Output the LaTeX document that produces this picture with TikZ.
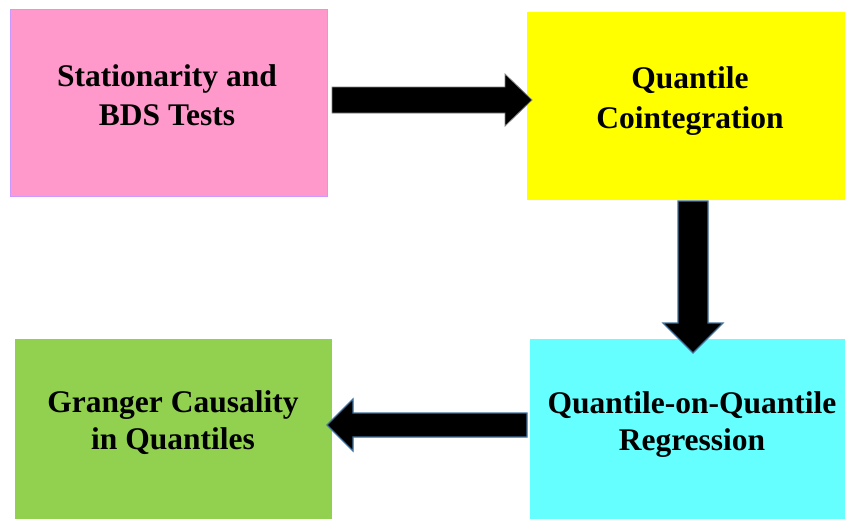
\documentclass[tikz,border=0pt]{standalone}
\usepackage{fontspec}
\setmainfont{Liberation Serif}
\usetikzlibrary{calc}
\definecolor{boxpink}{HTML}{FF99CC}
\definecolor{boxpinkline}{HTML}{CC99FF}
\definecolor{boxyellow}{HTML}{FFFF00}
\definecolor{boxcyan}{HTML}{66FFFF}
\definecolor{boxgreen}{HTML}{92D050}
\definecolor{arrline}{HTML}{41719C}
\tikzset{
  box/.style={rectangle, inner sep=0pt, outer sep=0pt},
  lbl/.style={anchor=base, inner sep=0pt, font=\fontsize{31.5}{39}\selectfont\bfseries},
  blockarrow/.style={fill=black, draw=arrline, line width=1.2pt, line join=miter},
}
\begin{document}
\begin{tikzpicture}[x=1pt,y=-1pt]
\useasboundingbox (0,0) rectangle (845,519);
% boxes
\node[box, fill=boxpink, draw=boxpinkline, line width=1pt, minimum width=317pt, minimum height=186pt] (b1) at (168.5,103) {};
\node[box, fill=boxyellow, minimum width=318pt, minimum height=188pt] (b2) at (686,106) {};
\node[box, fill=boxcyan, minimum width=315pt, minimum height=180pt] (b3) at (687.5,429) {};
\node[box, fill=boxgreen, minimum width=317pt, minimum height=180pt] (b4) at (173.5,429) {};
% texts
\node[lbl] (t1a) at (167,86) {Stationarity and};
\node[lbl] (t1b) at (167,125) {BDS Tests};
\node[lbl] (t2a) at (690,88) {Quantile};
\node[lbl] (t2b) at (690,128) {Cointegration};
\node[lbl] (t3a) at (692,413) {Quantile-on-Quantile};
\node[lbl] (t3b) at (692,450) {Regression};
\node[lbl] (t4a) at (173,412) {Granger Causality};
\node[lbl] (t4b) at (173,449) {in Quantiles};
% arrow 1: b1 -> b2
\coordinate (a1s) at ($(b1.east)+(5,-3)$);
\coordinate (a1t) at ($(b2.west)+(5,-6)$);
\draw[blockarrow, draw=gray, line width=0.8pt]
  ($(a1s)+(0,-13)$) -- ($(a1t)+(-27,-13)$) -- ($(a1t)+(-27,-26)$) -- (a1t)
  -- ($(a1t)+(-27,26)$) -- ($(a1t)+(-27,13)$) -- ($(a1s)+(0,13)$) -- cycle;
% arrow 2: b2 -> b3
\coordinate (a2s) at ($(b2.south)+(7,1)$);
\coordinate (a2t) at ($(b3.north)+(5.5,14)$);
\draw[blockarrow]
  ($(a2s)+(-15,0)$) -- ($(a2t)+(-15,-30)$) -- ($(a2t)+(-30,-30)$) -- (a2t)
  -- ($(a2t)+(30,-30)$) -- ($(a2t)+(15,-30)$) -- ($(a2s)+(15,0)$) -- cycle;
% arrow 3: b3 -> b4
\coordinate (a3s) at ($(b3.west)+(-3,-4)$);
\coordinate (a3t) at ($(b4.east)+(-5,-4)$);
\draw[blockarrow]
  ($(a3s)+(0,-12)$) -- ($(a3t)+(26,-12)$) -- ($(a3t)+(26,-26)$) -- (a3t)
  -- ($(a3t)+(26,26)$) -- ($(a3t)+(26,12)$) -- ($(a3s)+(0,12)$) -- cycle;
\end{tikzpicture}
\end{document}
